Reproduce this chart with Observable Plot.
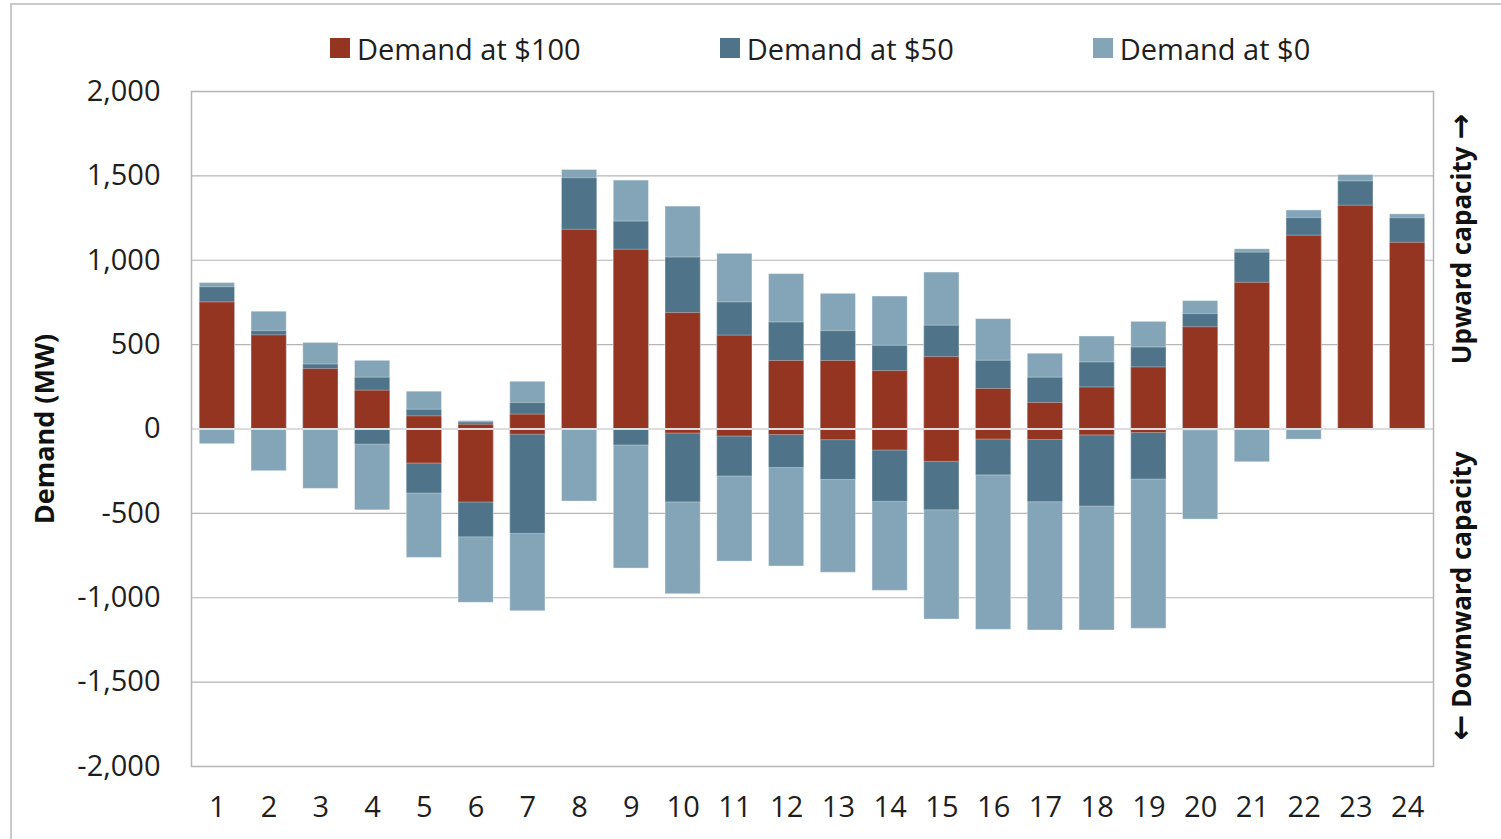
<!DOCTYPE html>
<html>
<head>
<meta charset="utf-8">
<script src="https://cdn.jsdelivr.net/npm/d3@7"></script>
<script src="https://cdn.jsdelivr.net/npm/@observablehq/plot@0.6"></script>
<style>
  html, body { margin: 0; padding: 0; background: #fff; width: 1501px; height: 839px; overflow: hidden; }
  #frame { position: absolute; left: 10px; top: 3px; width: 1600px; height: 900px; border: 2px solid #c9c9c9; box-sizing: border-box; }
  #legend { position: absolute; top: 28px; left: 330px; height: 40px; display: flex; align-items: center; gap: 139px;
            font-family: "Open Sans", sans-serif; font-size: 29px; color: #1e1e1e; white-space: nowrap; }
  #legend .item { display: flex; align-items: center; }
  #legend .sw { width: 20px; height: 20px; margin-right: 7px; }
  #chart { position: absolute; left: 0; top: 70px; }
</style>
</head>
<body>
<div id="frame"></div>
<div id="legend"></div>
<div id="chart"></div>
<script>
// ---- data (MW) ----
const hours = [1,2,3,4,5,6,7,8,9,10,11,12,13,14,15,16,17,18,19,20,21,22,23,24];
// Demand at $100: low / high
const lo100 = [0,0,0,0,-205,-436,-34,0,0,-27,-45,-36,-66,-128,-195,-63,-65,-38,-24,0,0,0,0,0];
const hi100 = [750,555,355,227,75,25,85,1180,1062,687,553,403,403,343,426,237,154,246,365,603,866,1145,1323,1103];
// Demand at $50: low / high
const lo50 = [0,0,0,-93,-383,-642,-622,0,-98,-435,-282,-231,-302,-432,-482,-275,-434,-460,-300,-8,0,0,0,0];
const hi50 = [840,580,382,304,114,39,154,1486,1229,1016,750,631,580,493,612,404,304,394,483,681,1045,1250,1467,1249];
// Demand at $0: low / high
const lo0 = [-90,-250,-355,-482,-764,-1030,-1080,-430,-827,-979,-786,-815,-852,-959,-1129,-1190,-1194,-1194,-1184,-537,-197,-63,0,0];
const hi0 = [865,695,510,404,221,47,280,1535,1472,1318,1038,918,801,785,927,651,446,548,635,758,1065,1295,1505,1272];

const seriesNames = ["Demand at $100", "Demand at $50", "Demand at $0"];
const seriesColors = ["#943522", "#4f7489", "#84a5b8"];
const yTicks = [-2000,-1500,-1000,-500,0,500,1000,1500,2000];
const yTitle = "Demand (MW)";
const upText = "Upward capacity", upArrow = "\u2192";
const downText = "Downward capacity", downArrow = "\u2190";

// ---- table ----
const table = hours.map((h, i) => ({
  hour: h, lo100: lo100[i], hi100: hi100[i], lo50: lo50[i], hi50: hi50[i], lo0: lo0[i], hi0: hi0[i]
}));

// ---- legend ----
const legend = document.getElementById("legend");
seriesNames.forEach((name, i) => {
  const item = document.createElement("div");
  item.className = "item";
  const sw = document.createElement("div");
  sw.className = "sw";
  sw.style.background = seriesColors[i];
  const t = document.createElement("span");
  t.textContent = name;
  item.appendChild(sw); item.appendChild(t);
  legend.appendChild(item);
});

const grid = "#b5b5b5";
const barStyle = {stroke: "#ffffff", strokeOpacity: 0.35, strokeWidth: 1};
const sideStyle = {frameAnchor: "right", dx: 29, rotate: -90, textAnchor: "middle", fontWeight: "bold",
                   fontSize: 26, fill: "#111"};

const chart = Plot.plot({
  width: 1501,
  height: 769,
  marginTop: 21,
  marginBottom: 73,
  marginLeft: 191,
  marginRight: 68,
  style: {fontFamily: "Open Sans, sans-serif", fontSize: "29px", color: "#1e1e1e", background: "transparent"},
  x: {type: "band", domain: hours, paddingInner: 0.32, paddingOuter: 0.16, round: false, label: null},
  y: {domain: [-2000, 2000], label: null},
  marks: [
    Plot.gridY(yTicks, {stroke: grid, strokeOpacity: 1, strokeWidth: 1.2}),
    Plot.barY(table, {x: "hour", y1: "lo0", y2: "hi0", fill: seriesColors[2], ...barStyle}),
    Plot.barY(table, {x: "hour", y1: "lo50", y2: "hi50", fill: seriesColors[1], ...barStyle}),
    Plot.barY(table, {x: "hour", y1: "lo100", y2: "hi100", fill: seriesColors[0], ...barStyle}),
    Plot.ruleY([0], {stroke: "#dddddd", strokeWidth: 2}),
    Plot.frame({stroke: grid, strokeWidth: 1.5}),
    Plot.axisY({ticks: yTicks, tickSize: 0, tickPadding: 31, fontSize: 29,
                tickFormat: d => d.toLocaleString("en-US"), label: null}),
    Plot.axisX({tickSize: 0, tickPadding: 30, fontSize: 29, label: null}),
    Plot.text([yTitle], {frameAnchor: "left", dx: -146, rotate: -90, textAnchor: "middle", fontWeight: "bold",
                         fontSize: 27, fill: "#111", text: d => d}),
    Plot.text([upText + " " + upArrow], {...sideStyle, dy: -190, text: d => d, className: "side-up"}),
    Plot.text([downArrow + " " + downText], {...sideStyle, dy: 167, text: d => d, className: "side-down"})
  ]
});

// render arrows with a font that has heavy arrow glyphs, keeping one text element per label
function splitArrow(sel, parts) {
  d3.select(chart).selectAll(sel + " text").each(function() {
    const t = d3.select(this);
    t.text(null);
    parts.forEach(p => {
      const ts = t.append("tspan").text(p.s);
      if (p.arrow) ts.attr("font-family", "DejaVu Sans").attr("font-size", 31);
    });
  });
}
splitArrow(".side-up", [{s: upText + " "}, {s: upArrow, arrow: true}]);
splitArrow(".side-down", [{s: downArrow, arrow: true}, {s: " " + downText}]);

document.getElementById("chart").appendChild(chart);
</script>
</body>
</html>
